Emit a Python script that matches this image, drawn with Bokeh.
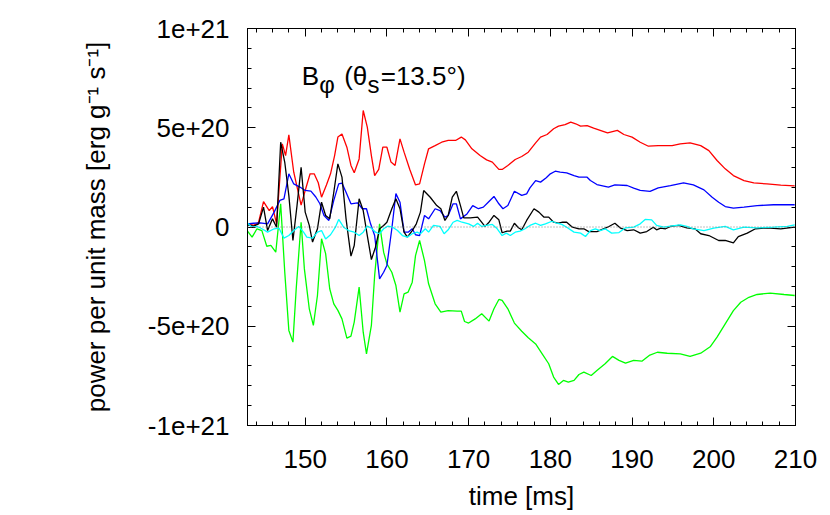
from bokeh.plotting import figure
from bokeh.models import (Range1d, FixedTicker, LinearAxis, Span, Label,
                          CustomJSTickFormatter)
from bokeh.embed import file_html
from bokeh.resources import INLINE

# ---- data (values in units of 1e20 erg g^-1 s^-1, time in ms) ----
red = [(143.1,0.16),(143.7,0.08),(144.3,0.24),(144.9,1.28),(145.6,0.83),(146.0,1.03),(146.5,0.16),
       (147.2,4.19),(147.6,3.6),(148.0,4.64),(148.6,2.76),(149.5,1.1),(150.0,1.84),(150.6,2.68),(151.1,2.68),
       (151.6,2.23),(152.0,1.5),(152.6,2.12),(153.1,2.68),(153.6,3.6),(154.0,4.53),(154.5,4.69),
       (155.1,4.02),(155.6,3.10),(156.0,2.73),(156.6,3.43),(157.1,5.87),(157.6,5.03),(158.1,3.60),
       (158.5,2.59),(159.0,2.90),(159.5,4.02),(160.0,4.02),(160.5,3.27),(161.0,3.10),(161.6,4.44),
       (162.1,3.77),(162.8,2.90),(163.5,2.12),(164.0,2.17),(164.6,3.18),(165.1,3.94),(165.9,4.1),
       (166.7,4.27),(167.5,4.36),(168.4,4.36),(169.1,4.53),(169.6,4.39),(170.4,3.94),(171.4,3.6),
       (172.2,3.38),(172.9,3.27),(173.7,2.9),(174.1,2.9),(174.8,3.1),(175.7,3.4),(176.5,3.55),
       (177.3,3.77),(178.2,4.24),(178.8,4.53),(179.6,4.66),(180.4,4.95),(181.0,5.08),(181.8,5.16),
       (182.5,5.28),(183.1,5.2),(183.7,5.08),(184.5,5.11),(185.3,4.98),(186.1,4.87),(187.0,4.74),
       (188.2,4.87),(189.0,4.66),(190.0,4.53),(191.0,4.27),(192.0,4.07),(193.2,4.1),(194.9,4.1),
       (195.9,4.19),(197.1,4.24),(198.4,4.1),(199.4,3.85),(200.4,3.35),(201.4,2.93),(202.4,2.59),
       (203.7,2.34),(204.9,2.22),(206.5,2.17),(208.2,2.11),(209.9,2.07)]

black = [(142.9,0.11),(143.7,0.04),(144.3,0.16),(144.9,1.0),(145.4,-0.18),(146.0,0.41),(146.5,-0.01),
         (147.0,4.27),(147.5,3.26),(148.0,1.58),(148.5,-0.68),(149.0,1.08),(149.5,3.01),(150.0,0.75),
         (150.5,0.08),(150.9,-0.76),(151.5,-0.09),(152.0,1.25),(152.5,0.58),(153.0,0.41),(153.5,1.75),
         (154.0,3.18),(154.5,2.51),(155.0,0.41),(155.6,-1.47),(156.0,-0.93),(156.6,1.42),(157.1,0.83),
         (157.6,-0.43),(158.1,-1.64),(158.6,-1.02),(159.1,-0.09),(159.6,0.08),(160.0,0.24),(160.6,0.92),
         (161.1,1.42),(161.6,0.92),(162.1,-0.26),(162.5,-0.51),(163.1,-0.18),(163.6,0.16),(164.1,0.75),
         (164.5,1.84),(165.3,1.5),(166.1,1.08),(166.6,0.92),(167.1,0.33),(167.5,0.58),(168.0,1.5),
         (168.5,1.8),(169.0,1.08),(169.4,0.46),(170.2,0.46),(171.1,0.5),(172.0,0.03),(172.5,0.24),
         (173.1,0.58),(173.7,0.36),(174.1,-0.29),(174.7,-0.21),(175.1,-0.21),(175.6,0.19),(176.1,-0.04),
         (176.5,-0.14),(177.1,0.33),(178.0,0.92),(178.6,0.75),(179.2,0.5),(179.8,0.5),(180.4,0.24),
         (181.0,0.19),(181.5,0.24),(182.0,0.24),(182.7,-0.01),(183.5,-0.09),(184.1,-0.09),(184.7,-0.23),
         (185.7,-0.23),(187.0,-0.01),(187.9,0.19),(188.6,-0.06),(189.4,-0.18),(190.2,-0.14),(191.0,-0.31),
         (191.8,-0.23),(192.6,-0.01),(193.0,-0.14),(193.5,-0.06),(194.1,-0.09),(194.7,0.03),(195.7,0.08),
         (196.7,-0.04),(197.7,-0.09),(198.4,-0.34),(199.4,-0.43),(200.6,-0.68),(201.4,-0.68),(202.4,-0.8),
         (203.0,-0.48),(204.1,-0.31),(205.1,-0.09),(206.5,-0.04),(208.2,-0.09),(209.9,-0.01)]

blue = [(142.9,0.16),(143.7,0.19),(144.5,0.21),(145.4,0.16),(146.2,0.75),(146.9,1.34),(147.4,1.42),
        (148.0,2.68),(148.6,2.17),(149.4,2.0),(150.0,1.84),(150.7,1.81),(151.3,1.51),(151.8,1.17),
        (152.3,0.58),(152.9,0.33),(153.5,1.34),(154.1,2.17),(154.5,2.21),(155.0,1.75),(155.6,1.17),
        (156.4,1.22),(157.0,0.92),(157.5,0.92),(158.0,0.16),(158.5,-0.43),(159.1,-2.61),(159.6,-2.28),
        (160.0,-1.94),(160.6,-0.09),(161.1,1.68),(161.6,1.25),(162.1,-0.26),(162.6,-0.26),(163.1,-0.09),
        (163.5,-0.39),(164.0,-0.43),(164.6,0.58),(165.1,0.41),(165.9,0.92),(166.5,0.83),(167.1,0.5),
        (167.5,0.58),(168.1,1.17),(168.5,1.17),(169.0,0.41),(169.8,0.66),(170.5,1.08),(171.2,0.92),
        (171.8,1.0),(172.4,1.25),(173.1,1.54),(173.7,1.17),(174.2,0.92),(174.8,1.08),(175.6,1.8),
        (176.5,1.59),(177.1,1.67),(177.5,1.97),(178.2,2.34),(178.8,2.26),(179.5,2.48),(180.0,2.68),
        (180.6,2.81),(181.2,2.76),(182.0,2.73),(182.9,2.59),(183.5,2.51),(184.5,2.51),(184.9,2.34),
        (185.7,2.14),(187.1,2.01),(187.9,2.12),(189.4,2.09),(190.2,1.96),(191.0,1.84),(192.2,1.79),
        (193.2,1.97),(194.7,2.09),(196.3,2.22),(197.5,2.12),(198.8,1.87),(199.8,1.5),(200.6,1.25),
        (201.4,1.03),(202.4,0.95),(203.7,1.0),(205.3,1.08),(207.3,1.12),(209.9,1.12)]

green = [(142.9,-0.18),(143.5,-0.51),(144.1,-0.09),(144.7,-0.18),(145.3,-0.97),(145.8,-0.93),(146.4,-1.27),
         (147.0,1.17),(147.5,-2.28),(148.0,-5.21),(148.5,-5.8),(148.9,-3.11),(149.5,0.24),(149.9,-2.11),
         (150.5,-4.12),(151.0,-4.96),(151.5,-3.45),(152.0,-0.59),(152.5,-1.34),(153.0,-3.11),(153.5,-3.87),
         (154.0,-4.2),(154.5,-4.63),(155.1,-5.6),(155.6,-5.5),(156.0,-4.79),(156.6,-3.03),(157.1,-5.3),
         (157.5,-6.39),(158.1,-4.96),(158.5,-2.44),(159.1,0.16),(159.6,-1.27),(160.0,-1.86),(160.6,-2.28),
         (161.1,-2.95),(161.6,-4.29),(162.1,-3.37),(162.6,-3.28),(163.1,-2.78),(163.5,-1.44),(164.0,-0.68),
         (164.6,-1.69),(165.1,-2.86),(165.9,-3.87),(166.6,-4.29),(167.5,-4.21),(168.6,-4.24),(169.1,-4.24),
         (169.5,-4.76),(170.0,-4.84),(170.8,-4.63),(171.6,-4.37),(172.5,-4.74),(173.1,-4.12),(173.7,-3.65),
         (174.1,-3.7),(174.8,-4.12),(175.6,-4.84),(176.5,-5.25),(177.3,-5.58),(178.2,-5.89),(179.0,-6.39),
         (179.8,-6.89),(180.4,-7.56),(181.0,-7.93),(181.6,-7.73),(182.2,-7.81),(182.9,-7.73),(183.5,-7.43),
         (184.1,-7.31),(185.0,-7.48),(185.7,-7.23),(186.7,-6.89),(187.6,-6.52),(188.4,-6.72),(189.2,-6.86),
         (190.2,-6.72),(191.2,-6.76),(192.1,-6.47),(193.1,-6.31),(194.3,-6.36),(195.9,-6.39),(197.1,-6.52),
         (198.4,-6.36),(199.6,-6.02),(200.4,-5.55),(201.4,-4.88),(202.4,-4.21),(203.3,-3.79),(204.3,-3.54),
         (205.3,-3.4),(206.9,-3.33),(208.6,-3.4),(209.9,-3.45)]

cyan = [(142.9,0.21),(143.5,-0.01),(144.1,0.03),(144.7,-0.09),(145.4,-0.26),(146.2,-0.09),(146.8,-0.06),
        (147.4,-0.56),(148.0,-0.43),(148.6,-0.18),(149.2,0.03),(149.8,-0.26),(150.2,-0.51),(150.9,-0.56),
        (151.5,-0.26),(152.0,-0.18),(152.5,-0.6),(153.1,-0.39),(153.7,-0.01),(154.1,0.38),(154.7,-0.01),
        (155.3,-0.18),(156.0,-0.26),(156.6,-0.43),(157.1,-0.26),(157.6,0.04),(158.1,-0.06),(158.6,-0.26),
        (159.1,-0.34),(159.6,-0.09),(160.1,0.04),(160.7,-0.01),(161.3,-0.18),(161.9,-0.43),(162.5,-0.51),
        (163.1,-0.34),(163.7,-0.26),(164.1,-0.34),(164.7,-0.09),(165.1,-0.26),(165.7,0.08),(166.5,0.03),
        (167.0,-0.34),(167.5,-0.14),(168.1,0.24),(168.6,0.33),(169.2,0.24),(170.0,0.16),(170.6,0.03),
        (171.1,0.19),(171.6,0.03),(172.2,0.08),(172.9,0.13),(173.5,-0.09),(174.1,-0.43),(174.6,-0.31),
        (175.1,-0.43),(175.7,-0.26),(176.3,-0.21),(176.9,-0.09),(177.5,0.08),(178.2,0.19),(178.8,0.08),
        (179.4,0.16),(180.2,0.29),(180.8,0.19),(181.4,0.13),(182.0,-0.01),(182.9,-0.26),(183.7,-0.31),
        (184.3,-0.48),(184.9,-0.18),(185.5,-0.09),(186.1,-0.18),(186.7,-0.09),(187.5,-0.31),(188.4,-0.28),
        (189.2,-0.04),(190.2,-0.01),(191.0,0.16),(191.6,0.38),(192.4,0.36),(193.0,0.08),(193.9,-0.01),
        (194.7,0.04),(195.9,0.11),(196.7,0.03),(197.5,-0.09),(198.8,-0.18),(200.0,-0.06),(201.4,0.03),
        (202.4,-0.14),(203.7,-0.01),(205.3,-0.04),(207.3,-0.01),(209.0,0.03),(209.9,0.11)]

x_major_ticks = [150, 160, 170, 180, 190, 200, 210]
x_minor_ticks = list(range(144, 211, 2))
y_major_ticks = [-10, -5, 0, 5, 10]
y_minor_ticks = list(range(-10, 11))
y_tick_labels = ["-1e+21", "-5e+20", "0", "5e+20", "1e+21"]
x_label = "time [ms]"
y_label = "power per unit mass [erg g\u207b\u00b9 s\u207b\u00b9]"

FONT = "Liberation Sans"
FS = "26px"

p = figure(width=830, height=515, output_backend="svg", toolbar_location=None,
           x_range=Range1d(142.94, 210), y_range=Range1d(-10, 10),
           min_border_left=247, min_border_right=35, min_border_top=28, min_border_bottom=90)
p.background_fill_color = "white"
p.border_fill_color = "white"
p.outline_line_color = "black"
p.outline_line_width = 1
p.grid.visible = False

def style_axis(ax, show_labels=True):
    ax.major_tick_in = 8
    ax.major_tick_out = 0
    ax.minor_tick_in = 4
    ax.minor_tick_out = 0
    ax.axis_line_color = "black"
    ax.major_tick_line_color = "black"
    ax.minor_tick_line_color = "black"
    ax.major_label_text_font = FONT
    ax.major_label_text_font_size = FS
    ax.major_label_text_color = "black"
    ax.axis_label_text_font = FONT
    ax.axis_label_text_font_size = FS
    ax.axis_label_text_font_style = "normal"
    ax.axis_label_text_color = "black"
    if not show_labels:
        ax.formatter = CustomJSTickFormatter(code="return ''")

xt = FixedTicker(ticks=x_major_ticks, minor_ticks=x_minor_ticks)
yt = FixedTicker(ticks=y_major_ticks, minor_ticks=y_minor_ticks)

xa = p.xaxis[0]
xa.ticker = xt
style_axis(xa)
xa.axis_label = x_label
xa.major_label_standoff = 24
xa.axis_label_standoff = 10

ya = p.yaxis[0]
ya.ticker = yt
style_axis(ya)
ya.axis_label = y_label
ya.major_label_overrides = {t: s for t, s in zip(y_major_ticks, y_tick_labels)}
ya.major_label_standoff = 18
ya.axis_label_standoff = 34

ra = LinearAxis(ticker=FixedTicker(ticks=y_major_ticks, minor_ticks=y_minor_ticks))
style_axis(ra, show_labels=False)
p.add_layout(ra, "right")
ta = LinearAxis(ticker=FixedTicker(ticks=x_major_ticks, minor_ticks=x_minor_ticks))
style_axis(ta, show_labels=False)
p.add_layout(ta, "above")

p.add_layout(Span(location=0, dimension="width", line_color="#808080",
                  line_width=1, line_dash="1 2"))

for series, color in [(red, "#ff0000"), (green, "#00ff00"), (blue, "#0000ff"),
                      (black, "#000000"), (cyan, "#00ffff")]:
    ts = [a for a, b in series]
    vs = [b for a, b in series]
    p.line(ts, vs, line_color=color, line_width=1.3)

# title  B_phi (theta_s = 13.5 deg)
title_y = 7.63
sub_y = 7.2
for tx, ty, txt, fs in [(149.57, title_y, "B", FS), (151.72, sub_y, "\u03c6", "24px"),
                        (154.77, title_y, "(\u03b8", FS), (157.63, sub_y, "s", "24px"),
                        (159.24, title_y, "=13.5\u00b0)", FS)]:
    p.add_layout(Label(x=tx, y=ty, text=txt, text_font=FONT, text_font_size=fs,
                       text_color="black", text_baseline="alphabetic", text_align="left"))

open("out.html", "w").write(file_html(p, INLINE))
